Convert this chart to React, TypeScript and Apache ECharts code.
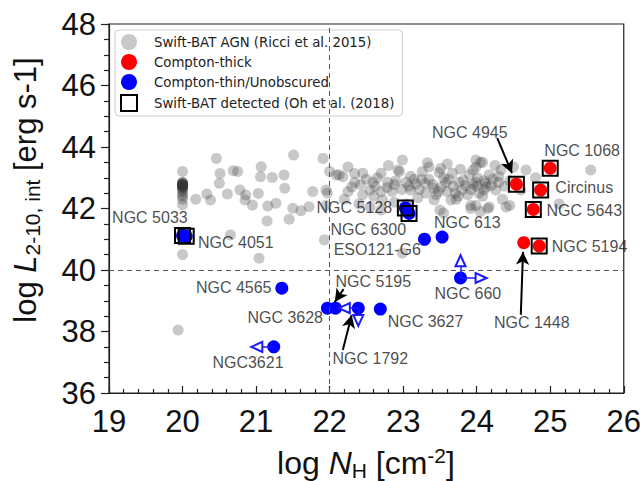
import React, { useEffect, useRef } from 'react';
import * as echarts from 'echarts';

// Swift-BAT AGN (Ricci et al. 2015): [log NH, log L]
const ricciAGN: [number, number][] = [
  [20.0, 43.2], [20.0, 42.85], [20.0, 42.8], [20.0, 42.78], [20.0, 42.74], [20.0, 42.72], [20.0, 42.68],
  [20.0, 42.65], [20.0, 42.6], [20.0, 42.55], [20.0, 42.45], [20.0, 42.3], [20.0, 42.12], [20.0, 40.5],
  [20.0, 42.82], [20.0, 42.79], [20.0, 42.76], [20.0, 42.73], [20.0, 42.7], [20.0, 42.84], [20.0, 42.77],
  [20.0, 42.4],
  [20.46, 43.63], [21.51, 43.74], [21.91, 43.63], [20.51, 43.14], [20.5, 42.82], [20.69, 43.23], [20.75, 43.2],
  [21.07, 43.36], [21.06, 43.03], [21.22, 43.01], [21.38, 43.09], [21.39, 42.66], [21.03, 42.49], [20.78, 42.6],
  [20.86, 42.44], [20.85, 42.28], [20.95, 42.11], [20.61, 42.47], [20.33, 42.47], [20.38, 42.28], [20.18, 42.3],
  [21.16, 42.08], [21.27, 42.17], [21.5, 42.01], [21.61, 41.93], [21.72, 42.06], [21.77, 42.55], [21.95, 42.6],
  [21.15, 41.59], [21.45, 41.65], [20.65, 41.14], [21.04, 40.38], [21.93, 40.98], [19.94, 38.05], [22.99, 40.55],
  [22.0, 43.2], [22.09, 43.09], [22.18, 43.03], [22.34, 43.14],
  [22.13, 43.1], [22.45, 43.15], [22.7, 43.15], [22.95, 43.2], [23.26, 43.2], [23.51, 43.3], [23.67, 43.15],
  [23.78, 43.28], [23.99, 43.35], [24.05, 43.5],
  [22.34, 42.85], [22.59, 42.85], [22.79, 42.85], [22.9, 42.9], [23.04, 42.85], [23.17, 42.8], [23.35, 42.95],
  [23.42, 42.65], [23.58, 42.85], [23.76, 42.85], [23.85, 42.75], [23.99, 42.85],
  [21.97, 42.5], [22.25, 42.55], [22.45, 42.45], [23.31, 42.5], [23.6, 42.55], [23.71, 42.5], [24.03, 42.5],
  [22.72, 42.28], [22.88, 42.2], [23.42, 42.28], [23.65, 42.28], [23.92, 42.0], [21.95, 42.1],
  [22.99, 43.58], [23.99, 43.58], [23.33, 43.49], [22.93, 43.25], [23.49, 43.17], [23.72, 42.3], [24.15, 42.0],
  [23.92, 42.1],
  [24.08, 43.5], [23.95, 43.25], [24.01, 43.0], [24.17, 43.1], [24.33, 43.25], [24.3, 42.85], [23.95, 42.78],
  [24.13, 42.7], [24.26, 42.6], [24.08, 42.4], [23.99, 42.1], [24.17, 42.05], [24.4, 42.05], [24.67, 43.25],
  [24.8, 43.0], [25.55, 43.25], [25.12, 42.15],
  [22.3, 42.7], [22.55, 42.6], [22.6, 42.4], [22.85, 42.55], [22.5, 42.95], [22.65, 43.0], [22.2, 42.3],
  [22.4, 42.15], [22.55, 42.05], [22.7, 41.95], [23.1, 42.6], [23.2, 42.35], [23.25, 42.95], [23.45, 42.45],
  [23.55, 43.0], [23.8, 42.6], [23.9, 43.1], [24.1, 42.9], [24.2, 42.75], [24.45, 42.9], [24.5, 43.35],
  [24.25, 43.4], [23.35, 43.35], [23.1, 43.05], [22.8, 43.4], [22.25, 43.35], [23.6, 43.45], [24.6, 42.6],
  [24.35, 42.3], [23.05, 42.15], [23.5, 41.95], [23.55, 41.85], [24.05, 41.9], [24.45, 42.1],
  [22.62, 42.72], [22.78, 42.68], [22.88, 42.78], [23.08, 42.72], [23.22, 42.62], [23.4, 42.78], [23.52, 42.7],
  [23.68, 42.72], [23.82, 42.92], [23.92, 42.62], [24.0, 42.72], [24.12, 42.82], [24.22, 42.95], [24.38, 42.72],
  [22.42, 42.78], [22.98, 42.62], [23.3, 42.82], [23.62, 42.95], [23.88, 42.45], [24.1, 42.6], [22.7, 42.55],
  [23.15, 42.95], [23.48, 42.55], [23.75, 42.4], [24.3, 43.05]
];

// Compton-thick sources
const thickNames = ['NGC 4945', 'NGC 1068', 'Circinus', 'NGC 5643', 'NGC 1448', 'NGC 5194'];
const thickX = [24.54, 25.0, 24.87, 24.77, 24.64, 24.85];
const thickY = [42.79, 43.31, 42.6, 41.97, 40.89, 40.78];

// Compton-thin / unobscured sources
const thinNames = ['NGC 5033', 'NGC 4051', 'NGC 5128', 'NGC 6300', 'ESO121-G6', 'NGC 613', 'NGC 4565',
  'NGC 3628', 'NGC 5195', 'NGC 1792', 'NGC 3627', 'NGC 660', 'NGC3621'];
const thinX = [20.0, 20.05, 23.03, 23.08, 23.29, 23.53, 21.35, 21.97, 22.08, 22.39, 22.69, 23.78, 21.24];
const thinY = [41.12, 41.1, 42.02, 41.84, 41.0, 41.07, 39.41, 38.76, 38.76, 38.76, 38.73, 39.74, 37.5];

// Swift-BAT detected (Oh et al. 2018)
const detectedNames = ['NGC 5033', 'NGC 4051', 'NGC 5128', 'NGC 6300', 'NGC 4945', 'NGC 1068', 'Circinus',
  'NGC 5643', 'NGC 5194'];

// Name labels
const labelText = ['NGC 5033', 'NGC 4051', 'NGC 5128', 'NGC 6300', 'ESO121-G6', 'NGC 613', 'NGC 4945',
  'NGC 1068', 'Circinus', 'NGC 5643', 'NGC 5194', 'NGC 1448', 'NGC 660', 'NGC 3627', 'NGC 1792', 'NGC 5195',
  'NGC 3628', 'NGC 4565', 'NGC3621'];
const labelX = [20.07, 20.21, 22.85, 23.04, 23.24, 23.42, 24.42, 24.92, 25.07, 24.95, 25.02, 24.75, 23.88,
  22.79, 22.04, 22.08, 21.91, 21.21, 20.89];
const labelY = [41.7, 40.88, 42.02, 41.32, 40.68, 41.53, 44.46, 43.9, 42.67, 41.92, 40.75, 38.3, 39.24,
  38.34, 37.13, 39.64, 38.45, 39.42, 36.99];
const labelAlign = ['right', 'left', 'right', 'right', 'right', 'left', 'right', 'left', 'left', 'left', 'left',
  'center', 'center', 'left', 'left', 'left', 'right', 'right', 'center'];

// Black pointer arrows: [fromX, fromY, toX, toY]
const pointerArrows: number[][] = [
  [24.28, 44.29, 24.48, 43.15],
  [24.6, 38.54, 24.63, 40.59],
  [22.19, 39.38, 22.07, 38.96],
  [22.18, 37.4, 22.3, 38.54]
];

// Blue limit arrows: [fromX, fromY, toX, toY]
const limitArrows: number[][] = [
  [22.39, 38.76, 22.2, 38.76],
  [22.39, 38.76, 22.39, 38.36],
  [23.78, 39.74, 23.78, 40.3],
  [23.78, 39.74, 24.06, 39.74],
  [21.24, 37.5, 21.01, 37.5]
];

const FONT = '"Liberation Sans", Arial, Helvetica, sans-serif';
const NAME_GRAY = 'Swift-BAT AGN (Ricci et al. 2015)';
const NAME_THICK = 'Compton-thick';
const NAME_THIN = 'Compton-thin/Unobscured';
const NAME_DET = 'Swift-BAT detected (Oh et al. (2018)';

function buildOption(): any {
  const thick = thickNames.map((n, i) => ({ name: n, value: [thickX[i], thickY[i]] }));
  const thin = thinNames.map((n, i) => ({ name: n, value: [thinX[i], thinY[i]] }));
  const all = [...thick, ...thin];
  const detected = detectedNames.map((n) => {
    const p = all.find((d) => d.name === n)!;
    return { name: n, value: p.value };
  });
  const labels = labelText.map((t, i) => ({
    name: t,
    value: [labelX[i], labelY[i]],
    label: { align: labelAlign[i] }
  }));

  const axisLineStyle = { color: '#222', width: 1.2 };

  return {
    animation: false,
    grid: { left: 109, right: 19, top: 24, bottom: 88, show: true, borderColor: '#222', borderWidth: 1.2, backgroundColor: 'transparent' },
    xAxis: {
      type: 'value', min: 19, max: 26, interval: 1,
      axisLine: { show: true, onZero: false, lineStyle: axisLineStyle },
      axisTick: { show: true, inside: true, length: 7, lineStyle: axisLineStyle },
      minorTick: { show: true, splitNumber: 5, length: 4, lineStyle: { color: '#222', width: 1.2 } },
      axisLabel: { fontSize: 31, color: '#111', margin: 13, fontFamily: FONT },
      splitLine: { show: false }
    },
    yAxis: {
      type: 'value', min: 36, max: 48, interval: 2,
      axisLine: { show: true, onZero: false, lineStyle: axisLineStyle },
      axisTick: { show: true, inside: false, length: 8, lineStyle: axisLineStyle },
      minorTick: { show: true, splitNumber: 4, length: 5, lineStyle: { color: '#222', width: 1.2 } },
      axisLabel: { fontSize: 31, color: '#111', margin: 13, fontFamily: FONT },
      splitLine: { show: false }
    },
    legend: {
      orient: 'vertical', left: 115, top: 30,
      itemWidth: 30, itemHeight: 16, itemGap: 4,
      padding: [4, 8, 4, 5],
      symbolKeepAspect: true,
      backgroundColor: 'rgba(255,255,255,0.7)',
      borderColor: '#cccccc', borderWidth: 1, borderRadius: 4,
      textStyle: { fontSize: 13.3, color: '#222', fontFamily: '"DejaVu Sans", sans-serif', padding: [0, 0, 0, 5] },
      data: [
        { name: NAME_GRAY },
        { name: NAME_THICK },
        { name: NAME_THIN },
        { name: NAME_DET, icon: 'path://M1 1L15 1L15 15L1 15Z' }
      ]
    },
    series: [
      {
        name: NAME_GRAY, type: 'scatter', symbol: 'circle', symbolSize: 11,
        itemStyle: { color: 'rgba(50,50,50,0.27)', opacity: 1 },
        data: ricciAGN,
        markLine: {
          silent: true, symbol: ['none', 'none'], label: { show: false },
          lineStyle: { color: '#555', type: [5, 4], width: 1 },
          data: [{ xAxis: 22 }, { yAxis: 40 }]
        }
      },
      {
        name: NAME_THIN, type: 'scatter', symbol: 'circle', symbolSize: 13,
        itemStyle: { color: '#0000ff', opacity: 1 }, data: thin, z: 3
      },
      {
        name: NAME_THICK, type: 'scatter', symbol: 'circle', symbolSize: 13,
        itemStyle: { color: '#ff0000', opacity: 1 }, data: thick, z: 3
      },
      {
        name: NAME_DET, type: 'scatter', symbol: 'rect', symbolSize: 15,
        itemStyle: { color: 'rgba(0,0,0,0)', borderColor: '#000', borderWidth: 2, opacity: 1 }, data: detected, z: 4
      },
      {
        name: 'pointers', type: 'scatter', data: [], z: 5,
        markLine: {
          silent: true, symbol: ['none', 'arrow'], symbolSize: [10, 13], label: { show: false },
          lineStyle: { color: '#000', type: 'solid', width: 2 },
          data: pointerArrows.map((a) => [{ coord: [a[0], a[1]] }, { coord: [a[2], a[3]] }])
        }
      },
      {
        name: 'limits', type: 'scatter', data: [], z: 5,
        markLine: {
          silent: true, symbol: ['none', 'emptyTriangle'], symbolSize: [10, 11], label: { show: false },
          lineStyle: { color: '#1a1aff', type: 'solid', width: 1.5 },
          data: limitArrows.map((a) => [{ coord: [a[0], a[1]] }, { coord: [a[2], a[3]] }])
        }
      },
      {
        name: 'labels', type: 'scatter', symbol: 'circle', symbolSize: 1, z: 6,
        itemStyle: { color: 'rgba(0,0,0,0)' },
        label: {
          show: true, position: 'inside', formatter: '{b}', verticalAlign: 'middle',
          fontSize: 16, color: '#1a1a1a', fontFamily: FONT
        },
        data: labels
      }
    ],
    graphic: [
      {
        type: 'text', x: 366, y: 463,
        style: {
          text: '{n|log }{i|N}{s|H}{n| [cm}{p|-2}{n|]}',
          align: 'center', verticalAlign: 'middle',
          fill: '#111',
          rich: {
            n: { fontSize: 32, lineHeight: 36, fontFamily: FONT, fill: '#111' },
            i: { fontSize: 32, lineHeight: 36, fontFamily: FONT, fontStyle: 'italic', fill: '#111' },
            s: { fontSize: 21, lineHeight: 19, verticalAlign: 'bottom', fontFamily: FONT, fill: '#111' },
            p: { fontSize: 21, lineHeight: 18, verticalAlign: 'top', fontFamily: FONT, fill: '#111' }
          }
        }
      },
      {
        type: 'text', x: 25, y: 190, rotation: Math.PI / 2,
        style: {
          text: '{n|log }{i|L}{s|2-10, int}{n| [erg s-1]}',
          align: 'center', verticalAlign: 'middle',
          fill: '#111',
          rich: {
            n: { fontSize: 31, lineHeight: 35, fontFamily: FONT, fill: '#111' },
            i: { fontSize: 31, lineHeight: 35, fontFamily: FONT, fontStyle: 'italic', fill: '#111' },
            s: { fontSize: 21, lineHeight: 18, verticalAlign: 'bottom', fontFamily: FONT, fill: '#111' }
          }
        }
      }
    ]
  };
}

export default function App() {
  const ref = useRef<HTMLDivElement>(null);
  useEffect(() => {
    const chart = echarts.init(ref.current!, null, { renderer: 'svg' });
    chart.setOption(buildOption());
    return () => chart.dispose();
  }, []);
  return <div ref={ref} style={{ width: 644, height: 481, position: 'absolute', left: 0, top: 0, background: '#fff' }} />;
}
